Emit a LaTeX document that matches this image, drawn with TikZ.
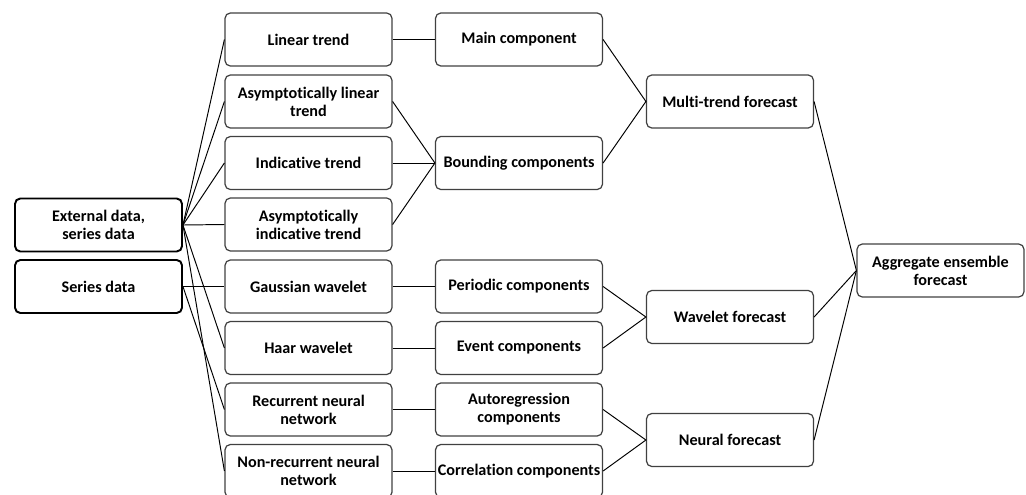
\documentclass[tikz,border=0pt]{standalone}
\usepackage{fontspec}
\setmainfont{Carlito}[Ligatures=NoCommon]

\begin{document}
\begin{tikzpicture}[x=0.02cm,y=-0.02cm,
   box/.style={draw=black!75,rounded corners=3pt,line width=0.7pt,
      minimum width=3.34cm,minimum height=1.06cm,inner sep=1pt,
      align=center,font=\bfseries\fontsize{9.2}{10.2}\selectfont},
   srcbox/.style={box,draw=black,line width=1.1pt},
   link/.style={line width=0.55pt}]
\useasboundingbox (0,0) rectangle (1026,494);
% inputs
\node[srcbox] (ext) at (98.5,225) {External data,\\series data};
\node[srcbox] (ser) at (98.5,286.5) {Series data};
% models
\node[box] (lin)   at (308.5,39.5)  {Linear trend};
\node[box] (alin)  at (308.5,101.5) {Asymptotically linear\\trend};
\node[box] (ind)   at (308.5,163)   {Indicative trend};
\node[box] (aind)  at (308.5,224.5) {Asymptotically\\indicative trend};
\node[box] (gauss) at (308.5,286.5) {Gaussian wavelet};
\node[box] (haar)  at (308.5,348)   {Haar wavelet};
\node[box] (rnn)   at (308.5,409.5) {Recurrent neural\\network};
\node[box] (nrnn)  at (308.5,471)   {Non-recurrent neural\\network};
% components
\node[box] (mainc)   at (519,39.5)  {Main component};
\node[box] (boundc)  at (519,163)   {Bounding components};
\node[box] (periodc) at (519,286.5) {Periodic components};
\node[box] (eventc)  at (519,348)   {Event components};
\node[box] (autoc)   at (519,409.5) {Autoregression\\components};
\node[box] (corrc)   at (519,471)   {Correlation components};
% forecasts
\node[box] (multi)  at (730,101.5) {Multi-trend forecast};
\node[box] (wave)   at (730,317)   {Wavelet forecast};
\node[box] (neural) at (730,440)   {Neural forecast};
\node[box] (aggr)   at (940.5,270.5) {Aggregate ensemble\\forecast};

\foreach \m in {lin,alin,ind,aind,haar,nrnn}
   \draw[link] (ext.east) -- (\m.west);
\foreach \m in {gauss,rnn}
   \draw[link] (ser.east) -- (\m.west);
\draw[link] (lin.east) -- (mainc.west);
\foreach \m in {alin,ind,aind}
   \draw[link] (\m.east) -- (boundc.west);
\draw[link] (gauss.east) -- (periodc.west);
\draw[link] (haar.east) -- (eventc.west);
\draw[link] (rnn.east) -- (autoc.west);
\draw[link] (nrnn.east) -- (corrc.west);
\draw[link] (mainc.east) -- (multi.west) -- (boundc.east);
\draw[link] (periodc.east) -- (wave.west) -- (eventc.east);
\draw[link] (autoc.east) -- (neural.west) -- (corrc.east);
\foreach \f in {multi,wave,neural}
   \draw[link] (\f.east) -- (aggr.west);
\end{tikzpicture}
\end{document}
